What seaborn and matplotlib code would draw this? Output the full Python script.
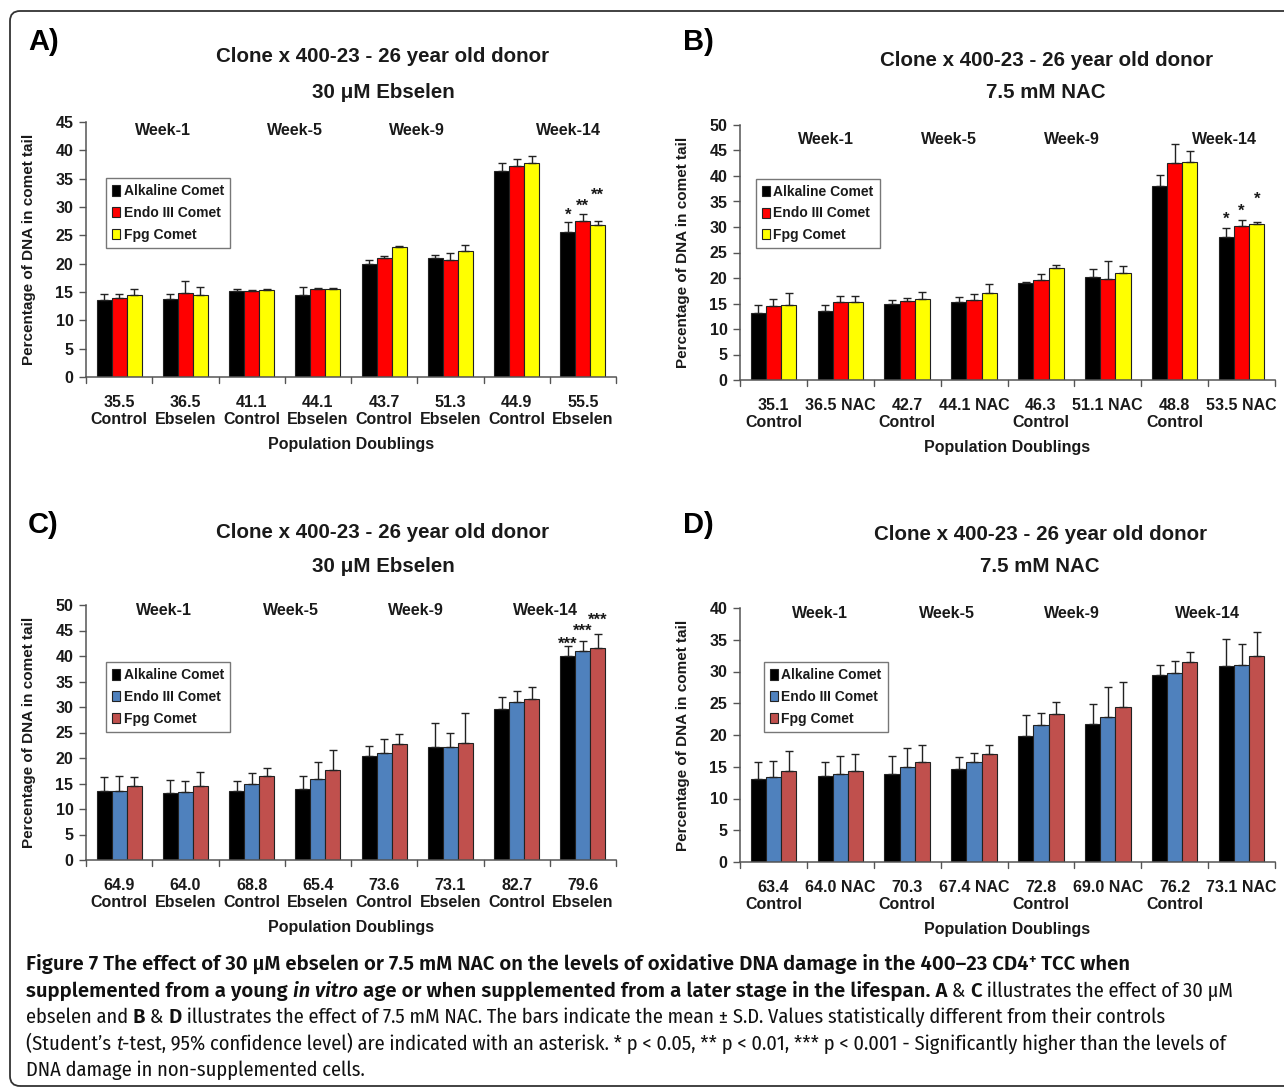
import numpy as np
import pandas as pd
import matplotlib
matplotlib.use("Agg")
import matplotlib.pyplot as plt
import seaborn as sns
from matplotlib.patches import FancyBboxPatch
from matplotlib.transforms import IdentityTransform

# ---------------------------------------------------------------- data
series = ["Alkaline Comet", "Endo III Comet", "Fpg Comet"]
weeks = ["Week-1", "Week-5", "Week-9", "Week-14"]

# Panel A: 30 uM Ebselen, young in vitro age
a_groups = ["35.5\nControl", "36.5\nEbselen", "41.1\nControl", "44.1\nEbselen",
            "43.7\nControl", "51.3\nEbselen", "44.9\nControl", "55.5\nEbselen"]
a_alk = [13.6, 13.8, 15.1, 14.4, 20.0, 21.0, 36.4, 25.5]
a_endo = [13.9, 14.9, 15.2, 15.6, 21.0, 20.7, 37.2, 27.5]
a_fpg = [14.5, 14.5, 15.3, 15.6, 22.9, 22.3, 37.8, 26.9]
a_alk_sd = [1.0, 0.8, 0.4, 1.4, 0.6, 0.6, 1.4, 1.9]
a_endo_sd = [0.7, 2.0, 0.2, 0.1, 0.4, 1.2, 1.3, 1.2]
a_fpg_sd = [1.1, 1.3, 0.3, 0.1, 0.2, 1.0, 1.2, 0.6]
a_stars = ["*", "**", "**"]

# Panel B: 7.5 mM NAC, young in vitro age
b_groups = ["35.1\nControl", "36.5 NAC", "42.7\nControl", "44.1 NAC",
            "46.3\nControl", "51.1 NAC", "48.8\nControl", "53.5 NAC"]
b_alk = [13.2, 13.6, 14.9, 15.2, 19.1, 20.1, 38.0, 28.0]
b_endo = [14.5, 15.2, 15.5, 15.7, 19.6, 19.9, 42.6, 30.2]
b_fpg = [14.7, 15.2, 15.9, 17.0, 22.0, 20.9, 42.8, 30.5]
b_alk_sd = [1.5, 1.1, 0.7, 1.0, 0.2, 1.6, 2.1, 1.9]
b_endo_sd = [1.3, 1.3, 0.5, 1.1, 1.1, 3.4, 3.6, 1.1]
b_fpg_sd = [2.3, 1.3, 1.3, 1.8, 0.6, 1.4, 2.1, 0.5]
b_stars = ["*", "*", "*"]

# Panel C: 30 uM Ebselen, later stage
c_groups = ["64.9\nControl", "64.0\nEbselen", "68.8\nControl", "65.4\nEbselen",
            "73.6\nControl", "73.1\nEbselen", "82.7\nControl", "79.6\nEbselen"]
c_alk = [13.5, 13.1, 13.6, 14.0, 20.4, 22.2, 29.7, 40.0]
c_endo = [13.5, 13.3, 15.0, 15.9, 21.0, 22.1, 30.9, 41.0]
c_fpg = [14.6, 14.6, 16.5, 17.7, 22.8, 23.0, 31.5, 41.5]
c_alk_sd = [2.7, 2.6, 1.8, 2.5, 1.9, 4.6, 2.3, 2.0]
c_endo_sd = [3.0, 2.1, 2.0, 3.3, 2.7, 2.8, 2.2, 2.0]
c_fpg_sd = [1.7, 2.6, 1.6, 3.9, 2.0, 5.8, 2.4, 2.9]
c_stars = ["***", "***", "***"]

# Panel D: 7.5 mM NAC, later stage
d_groups = ["63.4\nControl", "64.0 NAC", "70.3\nControl", "67.4 NAC",
            "72.8\nControl", "69.0 NAC", "76.2\nControl", "73.1 NAC"]
d_alk = [13.1, 13.5, 13.8, 14.7, 19.8, 21.7, 29.5, 30.8]
d_endo = [13.4, 13.9, 14.9, 15.8, 21.5, 22.8, 29.8, 31.1]
d_fpg = [14.3, 14.3, 15.8, 17.0, 23.3, 24.4, 31.5, 32.5]
d_alk_sd = [2.7, 2.3, 2.9, 1.9, 3.4, 3.2, 1.6, 4.3]
d_endo_sd = [2.5, 2.8, 3.1, 1.4, 1.9, 4.7, 1.9, 3.2]
d_fpg_sd = [3.2, 2.7, 2.7, 1.5, 1.9, 3.9, 1.6, 3.7]
d_stars = []

# ---------------------------------------------------------------- style
W, H = 1284, 1088
sns.set_theme(style="white")
SANS = ["Liberation Sans", "DejaVu Sans"]
plt.rcParams["font.family"] = SANS
plt.rcParams["font.weight"] = "bold"

ink = "#1a1a1a"
spine_col = "#555555"
warm = ["#000000", "#ff0000", "#ffff00"]
cool = ["#000000", "#4f81bd", "#c0504d"]

fig = plt.figure(figsize=(W / 100, H / 100), dpi=100)
fig.patch.set_facecolor("white")


def px_axes(x0, y_top, x1, y_bot):
    return fig.add_axes([x0 / W, 1 - y_bot / H, (x1 - x0) / W, (y_bot - y_top) / H])


def panel(ax, groups, vals, sds, palette, ymax, week_x, week_y, legend_xy, stars, star_y):
    rows = []
    for s, v in zip(series, vals):
        for g, val in zip(groups, v):
            rows.append({"group": g, "series": s, "value": val})
    df = pd.DataFrame(rows)
    sns.barplot(data=df, x="group", y="value", hue="series", order=groups,
                hue_order=series, palette=palette, saturation=1, width=0.68,
                errorbar=None, edgecolor="#222222", linewidth=0.8, ax=ax, zorder=2)

    # upward-only standard-deviation whiskers on each bar
    centres = []
    for cont, sd in zip(ax.containers, sds):
        xs = [b.get_x() + b.get_width() / 2 for b in cont]
        hs = [b.get_height() for b in cont]
        centres.append((xs, hs))
        ax.errorbar(xs, hs, yerr=[np.zeros(len(sd)), sd], fmt="none",
                    ecolor="#222222", elinewidth=1.0, capsize=3.2, capthick=1.0, zorder=3)

    ax.set_ylim(0, ymax)
    ax.set_xlim(-0.5, len(groups) - 0.5)
    ax.set_yticks(np.arange(0, ymax + 0.1, 5))
    ax.set_xticks(np.arange(len(groups)))
    ax.set_xticklabels(groups, fontsize=11.5, fontweight="bold", color=ink, linespacing=1.15)
    ax.tick_params(axis="x", length=0, pad=13)
    ax.tick_params(axis="y", length=5, width=1.0, color=spine_col, pad=4,
                   labelsize=11.5, labelcolor=ink, left=True, direction="out")
    for t in ax.get_yticklabels():
        t.set_fontweight("bold")
    # boundary ticks between groups on the category axis
    for xb in np.arange(-0.5, len(groups), 1.0):
        ax.plot([xb, xb], [0, -0.022], transform=ax.get_xaxis_transform(),
                color=spine_col, lw=1.0, clip_on=False, zorder=4)
    sns.despine(ax=ax)
    for side in ("left", "bottom"):
        ax.spines[side].set_color(spine_col)
        ax.spines[side].set_linewidth(1.1)
    ax.set_xlabel("Population Doublings", fontsize=11.5, fontweight="bold", color=ink, labelpad=7)
    ax.set_ylabel("Percentage of DNA in comet tail", fontsize=11, fontweight="bold",
                  color=ink, labelpad=14)

    for wx, wl in zip(week_x, weeks):
        ax.text(wx, week_y, wl, transform=ax.get_xaxis_transform(), ha="center",
                va="center", fontsize=11.5, fontweight="bold", color=ink)

    handles, labels = ax.get_legend_handles_labels()
    leg = ax.legend(handles, labels, loc="upper left", bbox_to_anchor=legend_xy,
                    frameon=True, fancybox=False, fontsize=10, handlelength=0.55,
                    handleheight=0.75, handletextpad=0.25, labelspacing=0.55,
                    borderpad=0.45, borderaxespad=0)
    leg.get_frame().set_edgecolor("#555555")
    leg.get_frame().set_linewidth(1.0)
    for t in leg.get_texts():
        t.set_fontweight("bold")
        t.set_color(ink)

    for (xs, hs), st, sy in zip(centres, stars, star_y):
        ax.text(xs[-1], sy, st, ha="center", va="center", fontsize=12,
                fontweight="bold", color=ink)


# Panel A
axA = px_axes(86, 122, 616, 377)
panel(axA, a_groups, [a_alk, a_endo, a_fpg], [a_alk_sd, a_endo_sd, a_fpg_sd], warm, 45,
      [0.66, 2.66, 4.5, 6.78], 0.965, (0.038, 0.78), a_stars, [28.6, 30.2, 32.0])
# Panel B
axB = px_axes(740, 125, 1275, 380)
panel(axB, b_groups, [b_alk, b_endo, b_fpg], [b_alk_sd, b_endo_sd, b_fpg_sd], warm, 50,
      [0.78, 2.62, 4.47, 6.74], 0.945, (0.03, 0.79), b_stars, [31.5, 33.0, 35.4])
# Panel C
axC = px_axes(86, 605, 616, 860)
panel(axC, c_groups, [c_alk, c_endo, c_fpg], [c_alk_sd, c_endo_sd, c_fpg_sd], cool, 50,
      [0.67, 2.6, 4.48, 6.44], 0.98, (0.038, 0.776), c_stars, [42.3, 44.8, 47.0])
# Panel D
axD = px_axes(740, 608, 1275, 862)
panel(axD, d_groups, [d_alk, d_endo, d_fpg], [d_alk_sd, d_endo_sd, d_fpg_sd], cool, 40,
      [0.69, 2.6, 4.46, 6.49], 0.98, (0.045, 0.787), d_stars, [])

ident = IdentityTransform()


def ftext(x, y, s, **kw):
    return fig.text(x, H - y, s, transform=ident, **kw)


# panel letters and titles
for lx, ly, letter in ((28, 42, "A)"), (683, 42, "B)"), (28, 525, "C)"), (683, 525, "D)")):
    ftext(lx, ly, letter, fontsize=21, fontweight="bold", color="black",
          va="center", ha="left")

titles = [(383, 57, 92, "30 \u03bcM Ebselen"), (1046, 60, 93, "7.5 mM NAC"),
          (383, 532, 566, "30 \u03bcM Ebselen"), (1040, 535, 567, "7.5 mM NAC")]
for tx, y1, y2, sub in titles:
    ftext(tx, y1, "Clone x 400-23 - 26 year old donor", fontsize=14.8, fontweight="bold",
          color=ink, ha="center", va="center")
    ftext(tx, y2, sub, fontsize=14.8, fontweight="bold", color=ink, ha="center", va="center")

# ---------------------------------------------------------------- caption
CAP = ["Fira Sans Condensed", "Liberation Sans", "DejaVu Sans"]
CAP_BOLD = ["Fira Sans", "Fira Sans Condensed", "Liberation Sans", "DejaVu Sans"]
renderer = fig.canvas.get_renderer()
probe = fig.text(0, 0, "", transform=ident)


def fam(weight):
    return CAP_BOLD if weight == "semibold" else CAP


def run_width(s, size, weight, style):
    probe.set_family(fam(weight))
    probe.set_fontsize(size)
    probe.set_fontweight(weight)
    probe.set_fontstyle(style)
    probe.set_text("|" + s + "|")
    w1 = probe.get_window_extent(renderer).width
    probe.set_text("||")
    w0 = probe.get_window_extent(renderer).width
    return w1 - w0


B, N, I = "semibold", "normal", "italic"
cap_lines = [
    (970, 1150, [("Figure 7 The effect of 30 \u03bcM ebselen or 7.5 mM NAC on the levels of "
                  "oxidative DNA damage in the 400\u201323 CD4", B, N, 0),
                 ("+", B, N, 6), (" TCC when", B, N, 0)]),
    (997, 1236, [("supplemented from a young ", B, N, 0), ("in vitro", B, I, 0),
                 (" age or when supplemented from a later stage in the lifespan. A", B, N, 0),
                 (" & ", N, N, 0), ("C", B, N, 0), (" illustrates the effect of 30 \u03bcM", N, N, 0)]),
    (1023, 1141, [("ebselen and ", N, N, 0), ("B", B, N, 0), (" & ", N, N, 0), ("D", B, N, 0),
                  (" illustrates the effect of 7.5 mM NAC. The bars indicate the mean \u00b1 S.D. "
                   "Values statistically different from their controls", N, N, 0)]),
    (1050, 1232, [("(Student\u2019s ", N, N, 0), ("t", N, I, 0),
                  ("-test, 95% confidence level) are indicated with an asterisk. * p < 0.05, "
                   "** p < 0.01, *** p < 0.001 - Significantly higher than the levels of", N, N, 0)]),
    (1076, None, [("DNA damage in non-supplemented cells.", N, N, 0)]),
]

# one common size so the four full lines fit their measure
sizes = []
for _, target, runs in cap_lines:
    if target is None:
        continue
    w10 = sum(run_width(s, 10, w, st) * (0.7 if rise else 1.0) for s, w, st, rise in runs)
    sizes.append(10 * target / w10)
cap_size = min(sizes)

for y, _, runs in cap_lines:
    x = 26
    for s, weight, style, rise in runs:
        sz = cap_size * (0.7 if rise else 1.0)
        fig.text(x, H - y + rise, s, transform=ident, fontsize=sz, fontweight=weight,
                 fontstyle=style, family=fam(weight), color="#111111", va="baseline", ha="left")
        x += run_width(s, sz, weight, style)
probe.set_text("")

# outer frame of the figure
frame = FancyBboxPatch((10, 2), 1320, H - 13, boxstyle="round,pad=0,rounding_size=10",
                       transform=ident, fill=False, edgecolor="#333333", linewidth=1.3)
fig.patches.append(frame)

fig.savefig("out.png", dpi=100, facecolor="white")
